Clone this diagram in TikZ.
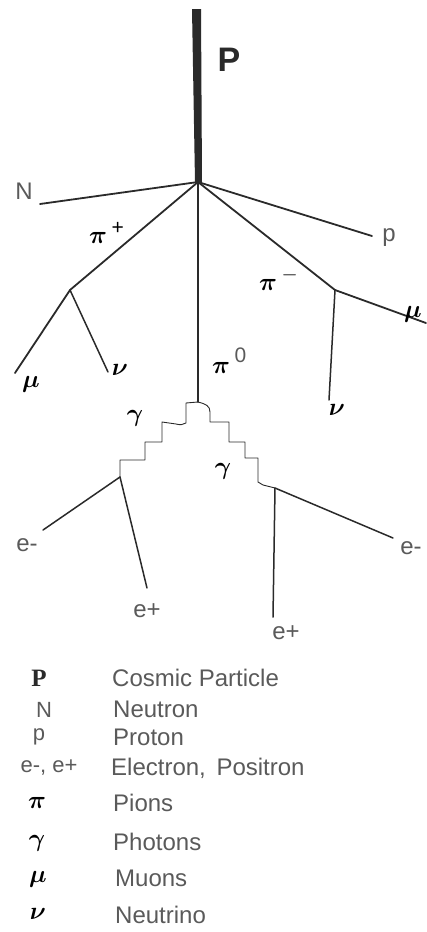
\documentclass[tikz,border=0pt]{standalone}
\usepackage{fontspec}
\setmainfont{Liberation Sans}
\newfontfamily\serifP{Liberation Serif}
\usepackage{bm}
\definecolor{ink}{HTML}{2A2A2A}
\definecolor{soft}{HTML}{5A5A5A}
\newcommand{\supfont}{\fontsize{21}{21}\selectfont}
\begin{document}
\begin{tikzpicture}[x=1pt,y=-1pt,
  track/.style={draw=ink, line width=1.8pt, line cap=round},
  photon/.style={draw=ink, line width=0.9pt, line join=round},
  lbl/.style={text=soft, font=\fontsize{24}{24}\selectfont, inner sep=0pt},
  sym/.style={text=black, font=\fontsize{27}{27}\selectfont, inner sep=0pt},
  legsym/.style={text=soft, font=\fontsize{22}{22}\selectfont, inner sep=0pt},
  legmath/.style={text=black, font=\fontsize{24}{24}\selectfont, inner sep=0pt},
  legtxt/.style={text=soft, font=\fontsize{24}{24}\selectfont, inner sep=0pt, anchor=west}]
\useasboundingbox (0,0) rectangle (426,932);
% vertices
\coordinate (V) at (198,182);
\coordinate (Nend) at (40,204);
\coordinate (pend) at (372,236);
\coordinate (Jp) at (70,290);
\coordinate (muL) at (15,373);
\coordinate (nuL) at (108,372);
\coordinate (Jm) at (335,290);
\coordinate (muR) at (426,323);
\coordinate (nuR) at (329,400);
\coordinate (Z) at (198,402);
\coordinate (GL) at (120,477);
\coordinate (GR) at (275,488);
\coordinate (eLm) at (43,530);
\coordinate (eLp) at (147,588);
\coordinate (eRm) at (393,538);
\coordinate (eRp) at (273,617);
% primary
\fill[ink] (192,9) -- (201,9) -- (202,182) -- (195,182) -- cycle;
\draw[track] (V) -- (Nend);
\draw[track] (V) -- (pend);
\draw[track] (V) -- (Jp);
\draw[track] (V) -- (Jm);
\draw[track, line width=1.5pt] (V) -- (Z);
\draw[track] (Jp) -- (muL);
\draw[track, line width=1.5pt] (Jp) -- (nuL);
\draw[track] (Jm) -- (muR);
\draw[track, line width=1.5pt] (Jm) -- (nuR);
% photons
\draw[photon] (Z) -- (186,403) -- (186,423) .. controls (183,425) and (180,425) .. (176,424) -- (162,422) -- (162,442) -- (145,442) -- (145,460) -- (120,460) -- (GL);
\draw[photon] (Z) .. controls (206,404) and (210,406) .. (210,412) -- (210,422) -- (229,422) -- (229,442) -- (245,442) -- (245,458) -- (258,458) -- (258,482) -- (263,485) -- (GR);
\draw[track, line width=1.5pt] (GL) -- (eLm);
\draw[track, line width=1.5pt] (GL) -- (eLp);
\draw[track, line width=1.5pt] (GR) -- (eRm);
\draw[track, line width=1.5pt] (GR) -- (eRp);
% labels
\node[sym, text=ink, font=\fontsize{34}{34}\selectfont\bfseries] (lP) at (229,60) {P};
\node[lbl] (lN) at (24,191) {N};
\node[lbl] (lp) at (389,238) {p};
\node[sym, anchor=south west] (lpip) at (89,244) {$\bm{\pi}$\,\raisebox{9pt}{\supfont +}};
\node[sym, anchor=south west] (lpim) at (259,291) {$\bm{\pi}$\,\raisebox{10pt}{\supfont $-$}};
\node[sym, anchor=south west] (lpi0) at (212,374) {$\bm{\pi}$\,\raisebox{11pt}{\color{soft}\supfont 0}};
\node[sym] (lmuL) at (31,384) {$\bm{\mu}$};
\node[sym] (lnuL) at (120,370) {$\bm{\nu}$};
\node[sym] (lmuR) at (413,314) {$\bm{\mu}$};
\node[sym] (lnuR) at (337,410) {$\bm{\nu}$};
\node[sym] (lgL) at (135,418) {$\bm{\gamma}$};
\node[sym] (lgR) at (223,471) {$\bm{\gamma}$};
\node[lbl] (leLm) at (27,545) {e-};
\node[lbl] (leLp) at (147,611) {e+};
\node[lbl] (leRm) at (411,548) {e-};
\node[lbl] (leRp) at (286,633) {e+};
% legend
\node[legsym, text=ink, font=\fontsize{25}{25}\selectfont\serifP\bfseries] (kP) at (39,678) {P};
\node[legsym] (kN) at (44,710) {N};
\node[legsym] (kp) at (39,737) {p};
\node[legsym] (ke) at (49,768) {e-, e+};
\node[legmath] (kpi) at (37,803) {$\bm{\pi}$};
\node[legmath] (kg) at (37,843) {$\bm{\gamma}$};
\node[legmath] (kmu) at (38,879) {$\bm{\mu}$};
\node[legmath] (knu) at (38,914) {$\bm{\nu}$};
\node[legtxt] (tP) at (112,678) {Cosmic Particle};
\node[legtxt] (tN) at (113,709) {Neutron};
\node[legtxt] (tp) at (113,737) {Proton};
\node[legtxt] (te) at (111,768) {Electron,\, Positron};
\node[legtxt] (tpi) at (113,803) {Pions};
\node[legtxt] (tg) at (113,842) {Photons};
\node[legtxt] (tmu) at (115,878) {Muons};
\node[legtxt] (tnu) at (115,915) {Neutrino};
\end{tikzpicture}
\end{document}
